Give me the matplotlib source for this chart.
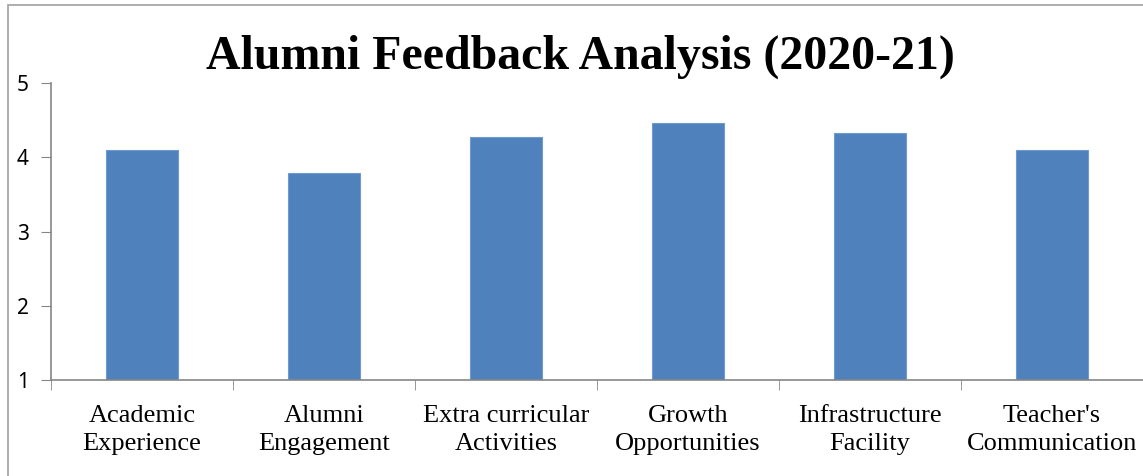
import matplotlib.pyplot as plt
import numpy as np
from matplotlib.patches import Rectangle

categories = ['Academic\nExperience', 'Alumni\nEngagement', 'Extra curricular\nActivities',
              'Growth\nOpportunities', 'Infrastructure\nFacility', "Teacher's\nCommunication"]
scores = [4.10, 3.79, 4.27, 4.46, 4.33, 4.10]
yticks = [1, 2, 3, 4, 5]

axis_grey = '#868686'
bar_blue = '#4F81BD'

fig = plt.figure(figsize=(11.43, 4.76), dpi=100)
ax = fig.add_axes([51 / 1143, 1 - 380 / 476, 1092 / 1143, 297 / 476])

x = np.arange(len(categories))
ax.bar(x, [s - 1 for s in scores], bottom=1, width=0.4, color=bar_blue,
       edgecolor='#6f9ad0', linewidth=0.8)

ax.set_xlim(-0.5, len(categories) - 0.5)
ax.set_ylim(1, 5)
ax.set_yticks(yticks)
ax.set_yticklabels([str(v) for v in yticks], fontsize=15, family='Noto Sans')
ax.set_xticks(x)
ax.set_xticklabels(categories, fontsize=19, family='Liberation Serif', linespacing=1.38)
ax.set_xticks(np.arange(len(categories) + 1) - 0.5, minor=True)
ax.tick_params(axis='x', which='major', length=0, pad=18)
ax.tick_params(axis='x', which='minor', length=7, color=axis_grey, direction='out')
ax.tick_params(axis='y', length=7, color=axis_grey, direction='out', pad=9)

for side in ['top', 'right']:
    ax.spines[side].set_visible(False)
for side in ['left', 'bottom']:
    ax.spines[side].set_color(axis_grey)
    ax.spines[side].set_linewidth(1.2)

fig.text(580 / 1143, 1 - 57 / 476, 'Alumni Feedback Analysis (2020-21)',
         ha='center', va='center', fontsize=34.5, fontweight='bold', family='Liberation Serif')

# outer chart frame
fig.patches.append(Rectangle((8 / 1143, -0.1), 1.2, 1 - 5 / 476 + 0.1,
                             transform=fig.transFigure, fill=False,
                             edgecolor='#a0a0a0', linewidth=1.2))

fig.savefig('out.png', dpi=100)
